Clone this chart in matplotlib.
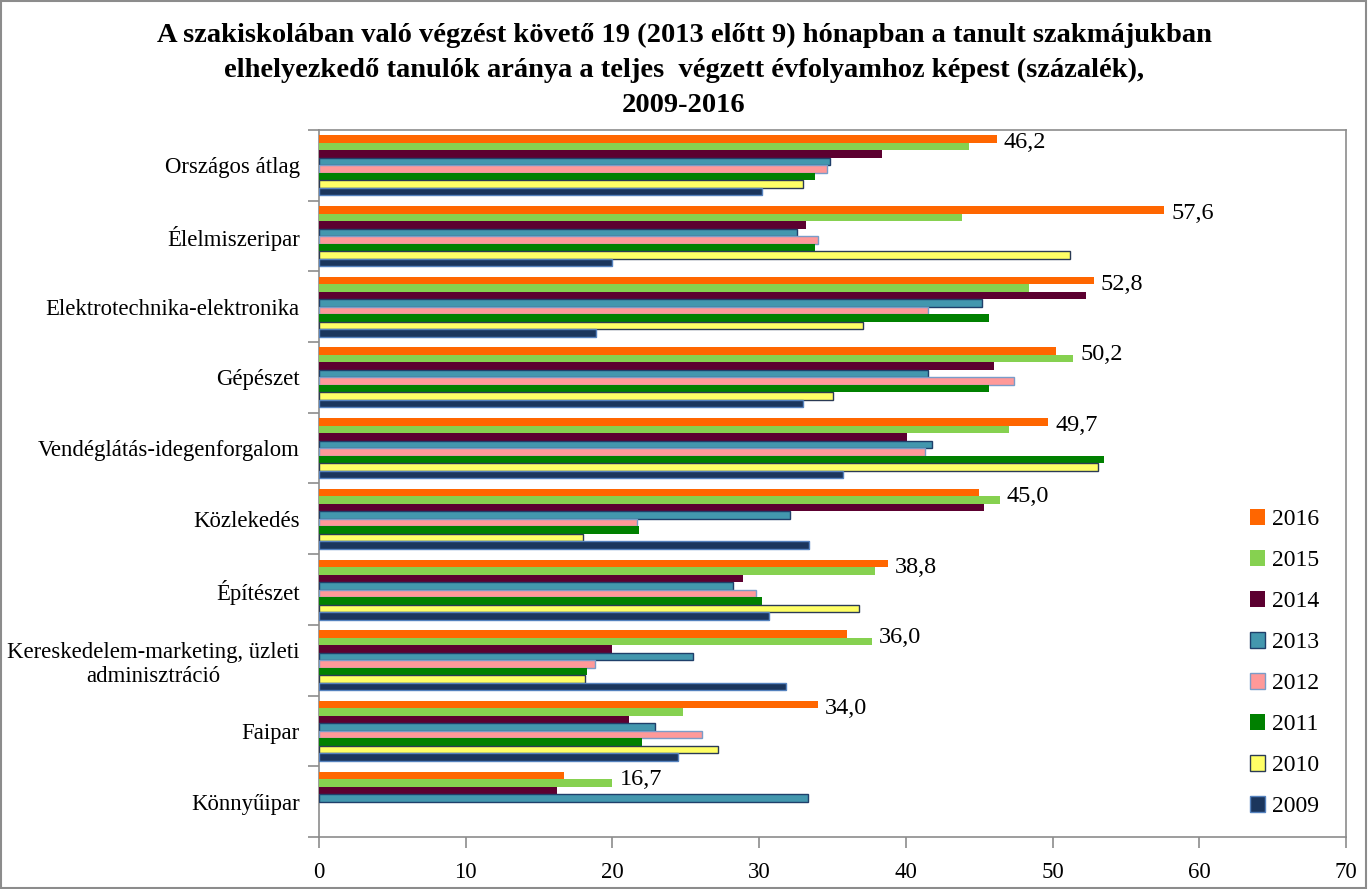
import numpy as np
import matplotlib
matplotlib.use("Agg")
import matplotlib.pyplot as plt

plt.rcParams['font.family'] = ['Liberation Serif', 'DejaVu Serif']

categories = [
    "Országos átlag",
    "Élelmiszeripar",
    "Elektrotechnika-elektronika",
    "Gépészet",
    "Vendéglátás-idegenforgalom",
    "Közlekedés",
    "Építészet",
    "Kereskedelem-marketing, üzleti\nadminisztráció",
    "Faipar",
    "Könnyűipar",
]

years = ["2016", "2015", "2014", "2013", "2012", "2011", "2010", "2009"]

v2016 = [46.2, 57.6, 52.8, 50.2, 49.7, 45.0, 38.8, 36.0, 34.0, 16.7]
v2015 = [44.3, 43.8, 48.4, 51.4, 47.0, 46.4, 37.9, 37.7, 24.8, 20.0]
v2014 = [38.4, 33.2, 52.3, 46.0, 40.1, 45.3, 28.9, 20.0, 21.1, 16.2]
v2013 = [34.8, 32.6, 45.2, 41.5, 41.8, 32.1, 28.2, 25.5, 22.9, 33.3]
v2012 = [34.6, 34.0, 41.5, 47.4, 41.3, 21.7, 29.8, 18.8, 26.1, None]
v2011 = [33.8, 33.8, 45.7, 45.7, 53.5, 21.8, 30.2, 18.3, 22.0, None]
v2010 = [33.0, 51.2, 37.1, 35.0, 53.1, 18.0, 36.8, 18.1, 27.2, None]
v2009 = [30.2, 20.0, 18.9, 33.0, 35.7, 33.4, 30.7, 31.8, 24.5, None]

series = [v2016, v2015, v2014, v2013, v2012, v2011, v2010, v2009]

fills = ["#FF6600", "#86D150", "#5C0030", "#4397AE",
         "#FF9999", "#008000", "#FFFF66", "#1B365D"]
edges = [None, None, None, "#1F3F6A", "#7A9CC8", None, "#2A3A55", "#5582BE"]

grey = "#8C8C8C"

fig = plt.figure(figsize=(13.68, 8.89), dpi=100)
ax = fig.add_axes([319 / 1368, 1 - 837 / 889, 1027 / 1368, 707 / 889])

n = len(series)
group = 0.85
h = group / n
ypos = np.arange(len(categories))

for i, (vals, fc, ec) in enumerate(zip(series, fills, edges)):
    # skip missing years (Könnyűipar has no data before 2013)
    idx = [k for k, v in enumerate(vals) if v is not None]
    y = ypos[idx] - group / 2 + (i + 0.5) * h
    ax.barh(y, [vals[k] for k in idx], height=h, color=fc,
            edgecolor=ec if ec else fc,
            linewidth=1.0 if ec else 0.0,
            label=years[i], zorder=3)

# value labels of the 2016 series, placed after the longer of the top two bars
for k, val in enumerate(v2016):
    x = max(val, v2015[k])
    y = k - group / 2 + h
    ax.annotate(f"{val:.1f}".replace(".", ","), (x, y),
                xytext=(5, 0), textcoords="offset points",
                ha="left", va="center", fontsize=17.5, zorder=4)

ax.set_xlim(0, 70)
ax.set_xticks(np.arange(0, 71, 10))
ax.set_ylim(len(categories) - 0.5, -0.5)

ax.set_yticks(np.arange(-0.5, len(categories)), minor=False)
ax.set_yticklabels([])
ax.set_yticks(ypos, minor=True)
ax.set_yticklabels(categories, minor=True, fontsize=16.4, multialignment="center")
ax.tick_params(axis="y", which="minor", length=0, pad=14)
ax.tick_params(axis="y", which="major", length=8, color=grey, width=1.2)
ax.tick_params(axis="x", length=8, color=grey, width=1.2, labelsize=16.5, pad=10)

for s in ax.spines.values():
    s.set_color(grey)
    s.set_linewidth(1.2)

leg = ax.legend(loc="upper left", bbox_to_anchor=(1250 / 1368, 1 - 509 / 889),
                bbox_transform=fig.transFigure, frameon=False,
                fontsize=17, handlelength=0.65, handleheight=0.65,
                handletextpad=0.3, labelspacing=0.84, borderaxespad=0,
                borderpad=0)

fig.suptitle("A szakiskolában való végzést követő 19 (2013 előtt 9) hónapban a tanult szakmájukban\n"
             "elhelyezkedő tanulók aránya a teljes  végzett évfolyamhoz képest (százalék),\n"
             "2009-2016",
             y=0.974, fontsize=20.5, fontweight="bold", linespacing=1.5)

# outer chart frame
fig.add_artist(plt.Rectangle((0.0008, 0.001), 0.998, 0.998, transform=fig.transFigure,
                             fill=False, edgecolor=grey, linewidth=1.5))

fig.savefig("out.png", dpi=100)
